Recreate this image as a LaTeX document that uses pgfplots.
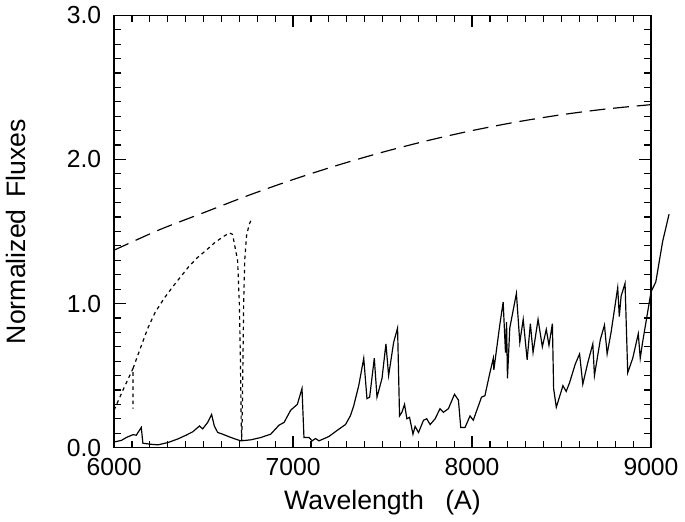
\documentclass[border=0pt]{standalone}
\usepackage{fontspec}
\setmainfont{Liberation Sans}
\usepackage{pgfplots}
\pgfplotsset{compat=1.18}

\begin{document}
\begin{tikzpicture}
\begin{axis}[
    width=272pt, height=219pt, scale only axis,
    xmin=6000, xmax=9000, ymin=0, ymax=3,
    xtick={6000,7000,8000,9000},
    ytick={0,1,2,3},
    minor x tick num=9,
    minor y tick num=9,
    /pgf/number format/assume math mode=true,
    xticklabel style={/pgf/number format/1000 sep={}, yshift=-2pt},
    yticklabel style={/pgf/number format/fixed, /pgf/number format/fixed zerofill, /pgf/number format/precision=1, xshift=-3pt},
    tick align=inside,
    tickwidth=6pt, subtickwidth=3.5pt,
    every tick/.style={black, line width=0.6pt},
    axis line style={line width=0.6pt},
    ticklabel style={font=\fontsize{12.5}{12.5}\selectfont},
    label style={font=\fontsize{13.5}{14}\selectfont},
    xlabel={Wavelength\hspace{0.8em}(A)},
    ylabel={Normalized\hspace{0.45em}Fluxes},
    xlabel style={at={(axis description cs:0.5,-0.128)}, anchor=center},
    ylabel style={at={(axis description cs:-0.182,0.5)}, anchor=center},
    clip=false,
    unbounded coords=jump,
]
% long dashed
\addplot[black, line width=0.6pt, dash pattern=on 8pt off 4pt, smooth] coordinates {
    (6000,1.37) (6250,1.51) (6500,1.63) (6750,1.75) (7000,1.86) (7250,1.96)
    (7500,2.05) (7750,2.13) (8000,2.20) (8250,2.26) (8500,2.31) (8750,2.35) (9000,2.38)
};
% dotted
\addplot[black, line width=0.6pt, dash pattern=on 1.8pt off 1.8pt] coordinates {
    (6000,0.26) (6050,0.40) (6106,0.55) (6106,0.27) (nan,nan)
    (6106,0.55) (6150,0.70) (6189,0.83) (6230,0.94) (6282,1.04) (6330,1.12) (6375,1.19)
    (6420,1.26) (6467,1.32) (6515,1.37) (6560,1.42) (6605,1.46) (6644,1.49) (6662,1.48)
    (6690,1.30) (6700,1.00) (6706,0.60) (6710,0.20) (6713,0.05) (6716,0.20)
    (6720,0.60) (6724,1.00) (6730,1.30) (6740,1.47) (6755,1.55) (6770,1.59)
};
% solid
\addplot[black, line width=0.6pt] coordinates {
    (6000,0.04) (6004,0.04) (6041,0.05) (6068,0.07) (6106,0.09) (6124,0.086)
    (6152,0.14) (6161,0.03) (6208,0.023) (6245,0.019) (6301,0.035) (6356,0.06)
    (6402,0.086) (6440,0.11) (6477,0.15) (6495,0.13) (6523,0.175) (6545,0.23)
    (6560,0.15) (6579,0.105) (6607,0.093) (6653,0.07) (6708,0.047) (6764,0.054)
    (6820,0.07) (6875,0.093) (6922,0.156) (6950,0.175) (6987,0.26) (7024,0.30)
    (7050,0.41) (7061,0.07) (7089,0.07) (7107,0.047) (7126,0.063) (7145,0.047)
    (7200,0.077) (7247,0.12) (7293,0.16) (7320,0.22) (7339,0.29) (7367,0.43) (7395,0.62)
    (7413,0.34) (7428,0.35) (7454,0.62) (7469,0.35) (7497,0.48) (7519,0.72)
    (7534,0.50) (7562,0.73) (7584,0.83) (7595,0.22) (7608,0.245) (7623,0.30)
    (7636,0.20) (7651,0.21) (7670,0.093) (7682,0.147) (7701,0.105) (7729,0.19)
    (7747,0.20) (7766,0.16) (7794,0.20) (7821,0.27) (7840,0.245) (7868,0.27)
    (7902,0.37) (7924,0.33) (7937,0.14) (7961,0.14) (7989,0.22) (8007,0.19)
    (8053,0.35) (8072,0.36) (8100,0.52) (8119,0.62) (8122,0.54) (8155,0.85)
    (8174,1.01) (8187,0.66) (8193,0.87) (8198,0.48) (8211,0.83) (8248,1.07)
    (8267,0.73) (8286,0.89) (8308,0.61) (8326,0.86) (8341,0.66) (8369,0.89)
    (8393,0.70) (8415,0.82) (8430,0.71) (8449,0.86) (8456,0.41) (8471,0.28)
    (8508,0.43) (8526,0.39) (8545,0.45) (8577,0.58) (8601,0.65) (8619,0.44)
    (8647,0.59) (8675,0.72) (8684,0.50) (8717,0.75) (8740,0.85) (8755,0.65)
    (8777,0.80) (8814,1.11) (8823,0.91) (8833,1.05) (8855,1.14) (8870,0.52)
    (8898,0.62) (8929,0.79) (8940,0.62) (8953,0.73) (9000,1.08) (9027,1.15)
    (9065,1.43) (9101,1.62)
};
\end{axis}
\end{tikzpicture}
\end{document}
